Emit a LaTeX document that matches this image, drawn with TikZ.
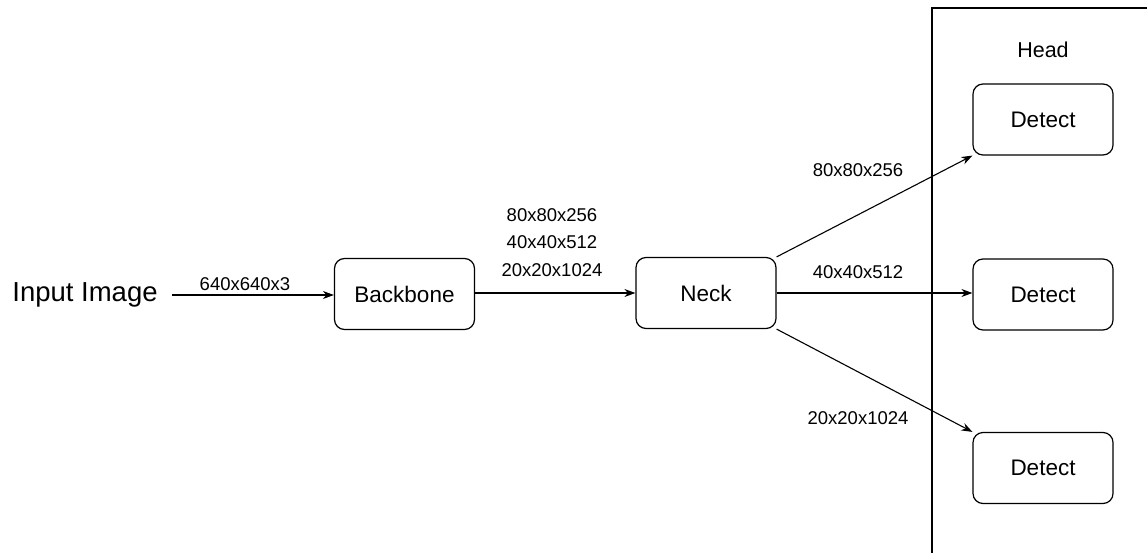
\documentclass[tikz,border=0pt]{standalone}
\usepackage{fontspec}
\setmainfont{Liberation Sans}
\usetikzlibrary{arrows.meta}
\begin{document}
\begin{tikzpicture}[x=1pt,y=-1pt,
  blk/.style={draw, line width=1.2pt, rounded corners=10pt, minimum width=140pt, minimum height=71pt, font=\fontsize{22.5}{26}\selectfont, inner sep=0pt},
  lbl/.style={font=\fontsize{18.5}{22}\selectfont, inner sep=0pt},
  arr/.style={line width=1.1pt, -{Stealth[length=11pt,width=8pt]}}]
\clip (0,0) rectangle (1147,553);
\fill[white] (0,0) rectangle (1147,553);
\draw[line width=1.4pt] (932,560) -- (932,8) -- (1160,8);
\node[font=\fontsize{21.5}{25}\selectfont] (head) at (1043,50) {Head};
\node[font=\fontsize{27.5}{32}\selectfont, inner sep=0pt] (inp) at (85,295) {Input Image};
\coordinate (inpr) at (172,295);
\node[blk] (bb) at (404.5,294) {Backbone};
\node[blk] (neck) at (706,293) {Neck};
\node[blk] (d1) at (1043,119.5) {Detect};
\node[blk] (d2) at (1043,294.5) {Detect};
\node[blk] (d3) at (1043,468) {Detect};
\draw[arr] (inpr) -- (bb.west |- inpr);
\node[lbl] (l0) at (245,284) {640x640x3};
\draw[arr] (bb.east |- neck) -- (neck.west);
\node[lbl] (l1) at (552,215) {80x80x256};
\node[lbl] (l2) at (552,242.5) {40x40x512};
\node[lbl] (l3) at (552,270) {20x20x1024};
\draw[arr] (neck.north east) -- (d1.south west);
\draw[arr] (neck.east) -- (d2.west |- neck.east);
\draw[arr] (neck.south east) -- (d3.north west);
\node[lbl] (l4) at (858,170) {80x80x256};
\node[lbl] (l5) at (858,272) {40x40x512};
\node[lbl] (l6) at (858,418) {20x20x1024};
\end{tikzpicture}
\end{document}
